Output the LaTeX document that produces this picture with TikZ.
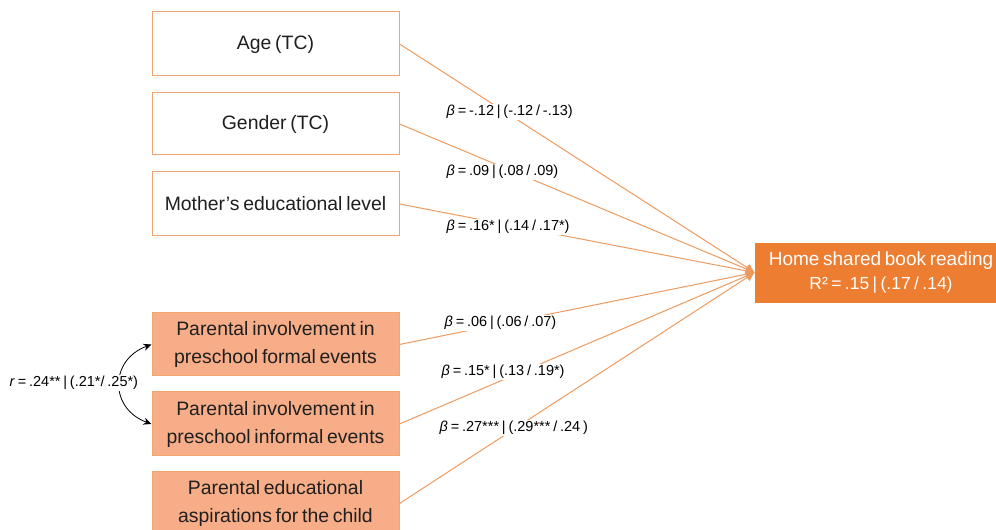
\documentclass[tikz,border=0pt]{standalone}
\usepackage{fontspec}
\setmainfont{Liberation Sans}[WordSpace=0.7]
\usetikzlibrary{arrows.meta}
\definecolor{accent}{HTML}{ED7D31}
\definecolor{lineor}{HTML}{EE9A5E}
\definecolor{boxborder}{HTML}{F2A46C}
\definecolor{boxfill}{HTML}{F7AE88}
\definecolor{txt}{HTML}{1F1F1F}
\begin{document}
\begin{tikzpicture}[x=1pt,y=1pt,
  varbox/.style={draw=boxborder, line width=1pt, minimum width=247pt, minimum height=63pt,
    inner sep=0pt, align=center, text=txt, font=\fontsize{19.4}{28}\selectfont},
  covbox/.style={varbox, fill=white},
  predbox/.style={varbox, fill=boxfill},
  outbox/.style={fill=accent, draw=accent, minimum width=252pt, minimum height=59pt,
    inner sep=0pt, align=center, text=white, font=\fontsize{19}{24}\selectfont},
  path/.style={draw=lineor, line width=1pt, -{Latex[length=9pt,width=9pt]}},
  coef/.style={fill=white, inner sep=1.5pt, anchor=west, text=black, font=\fontsize{14.5}{17}\selectfont},
  corr/.style={draw=black, line width=0.8pt, {Stealth[length=8pt,width=7pt]}-{Stealth[length=8pt,width=7pt]}}
]
\useasboundingbox (0,0) rectangle (996,530);
\begin{scope}
\clip (0,0) rectangle (996,530);
\node[covbox, minimum height=64pt] (age) at (275.5,486) {Age (TC)};
\node[covbox, minimum height=62pt] (gender) at (275.5,406) {Gender (TC)};
\node[covbox, minimum height=64pt] (mother) at (275.5,326) {Mother’s educational level};
\node[predbox] (formal) at (275.5,185.5) {Parental involvement in\\preschool formal events};
\node[predbox, minimum height=64pt] (informal) at (275.5,106) {Parental involvement in\\preschool informal events};
\node[predbox] (asp) at (275.5,26.5) {Parental educational\\aspirations for the child};
\node[outbox] (out) at (881,257.5) {Home shared book reading\\{\fontsize{17.5}{20}\selectfont R² = .15 | (.17 / .14)}};

\draw[path] (age.east) -- (out.west);
\draw[path] (gender.east) -- (out.west);
\draw[path] (mother.east) -- (out.west);
\draw[path] (formal.east) -- (out.west);
\draw[path] (informal.east) -- (out.west);
\draw[path] (asp.east) -- (out.west);

\node[coef] (l1) at (445,418) {\textit{β} = -.12 | (-.12 / -.13)};
\node[coef] (l2) at (445,358) {\textit{β} = .09 | (.08 / .09)};
\node[coef] (l3) at (445,303) {\textit{β} = .16* | (.14 / .17*)};
\node[coef] (l4) at (443,207) {\textit{β} = .06 | (.06 / .07)};
\node[coef] (l5) at (440,158) {\textit{β} = .15* | (.13 / .19*)};
\node[coef] (l6) at (438,102) {\textit{β} = .27*** | (.29*** / .24 )};

\draw[corr] (formal.west) to[out=200, in=160, looseness=1.45] (informal.west);
\node[coef] (rl) at (8,147) {\textit{r} = .24** | (.21*/ .25*)};
\end{scope}
\end{tikzpicture}
\end{document}
